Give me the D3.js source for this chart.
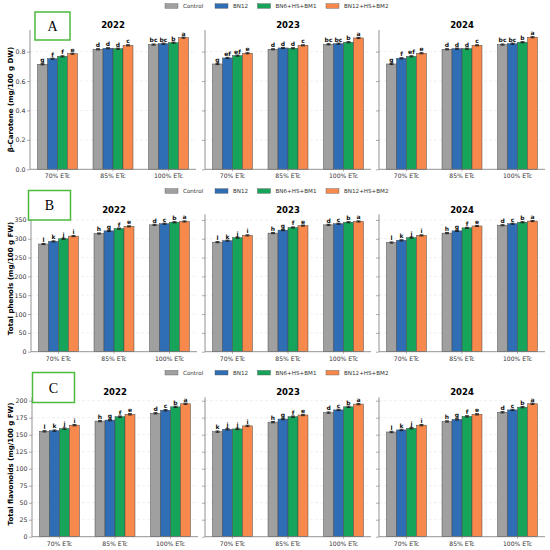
<!DOCTYPE html>
<html>
<head>
<meta charset="utf-8">
<script src="https://cdn.jsdelivr.net/npm/d3@7"></script>
<style>
  body { margin: 0; background: #fff; }
  text { font-family: "DejaVu Sans", sans-serif; }
</style>
</head>
<body>
<svg id="chart" width="550" height="550"></svg>
<script>
const years = ["2022", "2023", "2024"];
const irrigation = ["70% ETc", "85% ETc", "100% ETc"];
const treatments = ["Control", "BN12", "BN6+HS+BM1", "BN12+HS+BM2"];
const colors = ["#a0a0a0", "#2f6db5", "#16a35a", "#f7894c"];

// values are [year][irrigation][treatment]
const carotene = [
  [[0.714, 0.752, 0.768, 0.786], [0.816, 0.823, 0.820, 0.843], [0.848, 0.854, 0.861, 0.895]],
  [[0.716, 0.757, 0.773, 0.789], [0.816, 0.825, 0.823, 0.843], [0.850, 0.854, 0.864, 0.893]],
  [[0.716, 0.755, 0.768, 0.789], [0.816, 0.820, 0.820, 0.843], [0.848, 0.854, 0.864, 0.898]]
];
const caroteneLetters = [
  [["g", "f", "f", "e"], ["d", "d", "d", "c"], ["bc", "bc", "b", "a"]],
  [["g", "ef", "ef", "e"], ["d", "d", "d", "c"], ["bc", "bc", "b", "a"]],
  [["g", "f", "ef", "e"], ["d", "d", "d", "c"], ["bc", "bc", "b", "a"]]
];
const caroteneTicks = [0, 0.2, 0.4, 0.6, 0.8];

const phenols = [
  [[286, 293, 300, 307], [314, 321, 327, 333], [337, 340, 344, 346]],
  [[291, 295, 303, 309], [315, 323, 330, 335], [337, 340, 344, 346]],
  [[290, 296, 303, 309], [315, 321, 329, 334], [336, 340, 344, 347]]
];
const phenolLetters = [
  [["l", "k", "j", "i"], ["h", "g", "f", "e"], ["d", "c", "b", "a"]],
  [["l", "k", "j", "i"], ["h", "g", "f", "e"], ["d", "c", "b", "a"]],
  [["l", "k", "j", "i"], ["h", "g", "f", "e"], ["d", "c", "b", "a"]]
];
const phenolTicks = [0, 50, 100, 150, 200, 250, 300, 350];

const flavonoids = [
  [[155, 156, 159, 164], [170, 171.5, 176.5, 180], [181.5, 186, 191, 195.5]],
  [[154.5, 158, 158.5, 163], [168.5, 173, 176.5, 179], [182.5, 186.5, 191, 195]],
  [[154, 157, 159.5, 164], [169.5, 172.5, 177, 180], [183, 186.5, 190.5, 195.5]]
];
const flavonoidLetters = [
  [["l", "k", "j", "i"], ["h", "g", "f", "e"], ["d", "c", "b", "a"]],
  [["k", "j", "j", "i"], ["h", "g", "f", "e"], ["d", "c", "b", "a"]],
  [["l", "k", "j", "i"], ["h", "g", "f", "e"], ["d", "c", "b", "a"]]
];
const flavonoidTicks = [0, 25, 50, 75, 100, 125, 150, 175, 200];

const rows = [
  {tag: "A", label: "β-Carotene (mg/100 g DW)", values: carotene, letters: caroteneLetters,
   ticks: caroteneTicks, fmt: d3.format(".1f"), yMax: 0.947, err: 0.004,
   top: 30, bottom: 169.3, legendY: 6, titleY: 27.5, firstLeft: 30, labelY: 99.5,
   box: [35, 12, 35, 28]},
  {tag: "B", label: "Total phenols (mg/100 g FW)", values: phenols, letters: phenolLetters,
   ticks: phenolTicks, fmt: d3.format("d"), yMax: 365, err: 1.5,
   top: 214.3, bottom: 351.7, legendY: 191, titleY: 212.5, firstLeft: 31, labelY: 278.5,
   box: [28.5, 190.5, 42, 29.5]},
  {tag: "C", label: "Total flavonoids (mg/100 g FW)", values: flavonoids, letters: flavonoidLetters,
   ticks: flavonoidTicks, fmt: d3.format("d"), yMax: 205, err: 1,
   top: 397.3, bottom: 536.7, legendY: 372.7, titleY: 394.5, firstLeft: 32, labelY: 464,
   box: [32.5, 372.5, 42, 30]}
];

const panelW = 166;
const panelLefts = [null, 205, 379];
const svg = d3.select("#chart");

let x = d3.scaleBand().domain(irrigation).range([0, panelW]).paddingInner(0.28).paddingOuter(0.135);
let xs = d3.scaleBand().domain(treatments).range([0, x.bandwidth()]);

rows.forEach(function(row) {
  let y = d3.scaleLinear().domain([0, row.yMax]).range([row.bottom, row.top]);

  years.forEach(function(year, yi) {
    let left = yi == 0 ? row.firstLeft : panelLefts[yi];
    let g = svg.append("g").attr("transform", `translate(${left},0)`);

    // faint grid
    g.selectAll(".grid").data(row.ticks.slice(1)).enter()
      .append("line")
      .attr("x1", 0).attr("x2", panelW)
      .attr("y1", d => y(d)).attr("y2", d => y(d))
      .attr("stroke", "#e2e2e2").attr("stroke-width", 0.5)
      .attr("stroke-dasharray", "3,2");

    let groups = g.selectAll(".grp").data(row.values[yi]).enter()
      .append("g")
      .attr("transform", (d, i) => `translate(${x(irrigation[i])},0)`);

    groups.each(function(vals, ii) {
      let grp = d3.select(this);
      grp.selectAll("rect").data(vals).enter()
        .append("rect")
        .attr("x", (d, ti) => xs(treatments[ti]))
        .attr("y", d => y(d))
        .attr("width", xs.bandwidth())
        .attr("height", d => y(0) - y(d))
        .attr("fill", (d, ti) => colors[ti])
        .attr("stroke", "#4a4a4a").attr("stroke-width", 0.5);

      // error bars
      grp.selectAll(".eb").data(vals).enter()
        .append("path")
        .attr("d", function(d, ti) {
          let cx = xs(treatments[ti]) + xs.bandwidth() / 2;
          let a = y(d + row.err), b = y(d - row.err);
          return `M${cx - 2},${a}H${cx + 2}M${cx},${a}V${b}M${cx - 2},${b}H${cx + 2}`;
        })
        .attr("stroke", "#111").attr("stroke-width", 0.8).attr("fill", "none");

      grp.selectAll(".lt").data(vals).enter()
        .append("text")
        .attr("x", (d, ti) => xs(treatments[ti]) + xs.bandwidth() / 2)
        .attr("y", d => y(d + row.err) - 1.5)
        .attr("text-anchor", "middle")
        .style("font-size", "6px").style("font-weight", "bold")
        .attr("fill", "#111")
        .text((d, ti) => row.letters[yi][ii][ti]);
    });

    let yAxis = g.append("g")
      .call(d3.axisLeft(y).tickValues(row.ticks).tickSize(3).tickPadding(1.5)
        .tickFormat(yi == 0 ? row.fmt : ""));
    yAxis.select(".domain").attr("stroke", "#777").attr("stroke-width", 0.8)
      .attr("d", `M0,${row.top}V${row.bottom}`);
    yAxis.selectAll(".tick line").attr("stroke", "#777").attr("stroke-width", 0.6);
    yAxis.selectAll("text").style("font-size", "6.3px").attr("fill", "#333");

    let xAxis = g.append("g")
      .attr("transform", `translate(0,${row.bottom})`)
      .call(d3.axisBottom(x).tickSize(2).tickPadding(2.5));
    xAxis.select(".domain").attr("stroke", "#777").attr("stroke-width", 0.8)
      .attr("d", `M0,0H${panelW}`);
    xAxis.selectAll(".tick line").attr("stroke", "#777").attr("stroke-width", 0.6);
    xAxis.selectAll("text").style("font-size", "6.1px").attr("fill", "#333");

    g.append("text")
      .attr("x", panelW / 2).attr("y", row.titleY)
      .attr("text-anchor", "middle")
      .style("font-size", "8.5px").style("font-weight", "bold")
      .text(year);
  });

  // y label
  svg.append("text")
    .attr("transform", `translate(12.5,${row.labelY}) rotate(-90)`)
    .attr("text-anchor", "middle")
    .style("font-size", "7px").style("font-weight", "bold")
    .text(row.label);

  // legend
  let legend = svg.append("g").attr("transform", `translate(0,${row.legendY})`);
  let legendX = [165, 215, 257.5, 326];
  treatments.forEach(function(t, ti) {
    legend.append("rect")
      .attr("x", legendX[ti]).attr("y", -2.3)
      .attr("width", 13).attr("height", 4.6)
      .attr("fill", colors[ti]).attr("stroke", "#555").attr("stroke-width", 0.4);
    legend.append("text")
      .attr("x", legendX[ti] + 18).attr("y", 2)
      .style("font-size", "5.6px").attr("fill", "#333")
      .text(t);
  });

  // panel tag box
  svg.append("rect")
    .attr("x", row.box[0]).attr("y", row.box[1])
    .attr("width", row.box[2]).attr("height", row.box[3])
    .attr("fill", "#fff").attr("stroke", "#4cbb3c").attr("stroke-width", 1.5);
  svg.append("text")
    .attr("x", row.box[0] + row.box[2] / 2).attr("y", row.box[1] + row.box[3] / 2 + 5)
    .attr("text-anchor", "middle")
    .style("font-family", "'Liberation Serif', serif").style("font-size", "14px")
    .text(row.tag);
});
</script>
</body>
</html>
